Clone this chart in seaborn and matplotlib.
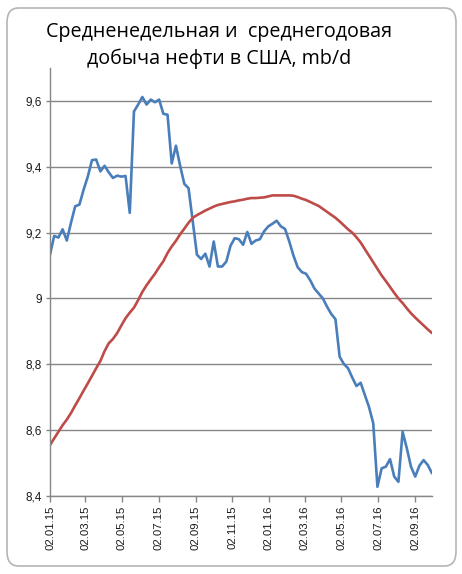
import numpy as np
import pandas as pd
import matplotlib
matplotlib.use("Agg")
import matplotlib.pyplot as plt
import seaborn as sns
from matplotlib.patches import FancyBboxPatch

# ---- data ----
start_date = "2015-01-02"
weekly = [9.133, 9.19, 9.185, 9.21, 9.176, 9.23, 9.28, 9.285, 9.33, 9.37,
          9.42, 9.422, 9.386, 9.403, 9.383, 9.366, 9.373, 9.37, 9.372, 9.26,
          9.568, 9.589, 9.612, 9.589, 9.604, 9.596, 9.604, 9.561, 9.558, 9.41,
          9.464, 9.403, 9.348, 9.335, 9.235, 9.133, 9.12, 9.136, 9.097, 9.173,
          9.097, 9.097, 9.112, 9.16, 9.183, 9.18, 9.163, 9.202, 9.166, 9.176,
          9.18, 9.204, 9.219, 9.227, 9.236, 9.219, 9.211, 9.173, 9.13, 9.095,
          9.08, 9.075, 9.055, 9.03, 9.015, 9.0, 8.975, 8.953, 8.937, 8.823,
          8.801, 8.788, 8.76, 8.734, 8.744, 8.707, 8.67, 8.621, 8.428, 8.484,
          8.489, 8.512, 8.459, 8.443, 8.595, 8.545, 8.489, 8.459, 8.492, 8.509,
          8.494, 8.469]
yearly = [8.555, 8.575, 8.595, 8.615, 8.632, 8.652, 8.675, 8.697, 8.72, 8.742,
          8.765, 8.788, 8.81, 8.84, 8.864, 8.877, 8.895, 8.918, 8.94, 8.957,
          8.972, 8.995, 9.02, 9.04, 9.058, 9.075, 9.095, 9.113, 9.138, 9.158,
          9.175, 9.195, 9.212, 9.23, 9.245, 9.253, 9.26, 9.267, 9.273, 9.279,
          9.284, 9.287, 9.29, 9.293, 9.295, 9.298, 9.3, 9.303, 9.305, 9.305,
          9.306, 9.307, 9.31, 9.313, 9.313, 9.313, 9.313, 9.313, 9.312, 9.308,
          9.303, 9.299, 9.293, 9.287, 9.281, 9.272, 9.263, 9.254, 9.245, 9.234,
          9.222, 9.21, 9.2, 9.186, 9.17, 9.15, 9.13, 9.11, 9.09, 9.07,
          9.053, 9.035, 9.017, 9.0, 8.986, 8.97, 8.955, 8.942, 8.93, 8.918,
          8.906, 8.895]
x_tick_labels = ["02.01.15", "02.03.15", "02.05.15", "02.07.15", "02.09.15",
                 "02.11.15", "02.01.16", "02.03.16", "02.05.16", "02.07.16",
                 "02.09.16"]
y_ticks = [8.4, 8.6, 8.8, 9.0, 9.2, 9.4, 9.6]
y_tick_labels = ["8,4", "8,6", "8,8", "9", "9,2", "9,4", "9,6"]
title_lines = ["Средненедельная и  среднегодовая", "добыча нефти в США, mb/d"]

dates = pd.date_range(start_date, periods=len(weekly), freq="7D")
df = pd.DataFrame({"date": list(dates) * 2,
                   "value": weekly + yearly,
                   "series": ["weekly"] * len(weekly) + ["yearly"] * len(yearly)})

sns.set_theme(style="white")
plt.rcParams["font.family"] = ["Liberation Sans", "DejaVu Sans"]

fig = plt.figure(figsize=(4.62, 5.74), dpi=100)
fig.patch.set_facecolor("white")
# chart frame
frame = FancyBboxPatch((7 / 462, 8 / 574), 449 / 462, 558 / 574,
                       boxstyle="round,pad=0,rounding_size=0.025",
                       transform=fig.transFigure, facecolor="white",
                       edgecolor="#b5b5b5", linewidth=1.2, zorder=-10)
fig.patches.append(frame)

ax = fig.add_axes([50 / 462, 1 - 496 / 574, 382 / 462, 428 / 574])
ax.set_facecolor("none")
sns.lineplot(data=df, x="date", y="value", hue="series",
             palette={"weekly": "#4a7ebb", "yearly": "#be4b48"},
             linewidth=1.9, ax=ax, legend=False)

ax.set_ylim(8.4, 9.7)
ax.set_yticks(y_ticks)
ax.set_yticklabels(y_tick_labels, fontsize=8.5, color="#1a1a1a")
tick_pos = pd.to_datetime(x_tick_labels, format="%d.%m.%y")
ax.set_xticks(tick_pos)
ax.set_xticklabels(x_tick_labels, rotation=90, fontsize=8.2, color="#1a1a1a")
ax.set_xlim(dates[0], dates[-1])
ax.set_xlabel("")
ax.set_ylabel("")

ax.yaxis.grid(True, color="#868686", linewidth=1.0)
ax.xaxis.grid(False)
ax.set_axisbelow(True)
for s in ["top", "right"]:
    ax.spines[s].set_visible(False)
for s in ["left", "bottom"]:
    ax.spines[s].set_color("#868686")
    ax.spines[s].set_linewidth(1.0)
ax.tick_params(axis="x", which="major", length=4, width=1.0, color="#868686",
               direction="out", pad=3, bottom=True)
ax.tick_params(axis="y", which="major", length=3, width=1.0, color="#868686",
               direction="out", pad=3, left=True)

for line, base_y in zip(title_lines, [37, 64]):
    fig.text(219 / 462, 1 - base_y / 574, line, ha="center", va="baseline",
             fontsize=14.2, family=["Open Sans", "DejaVu Sans"], color="black")

fig.savefig("out.png", dpi=100)
